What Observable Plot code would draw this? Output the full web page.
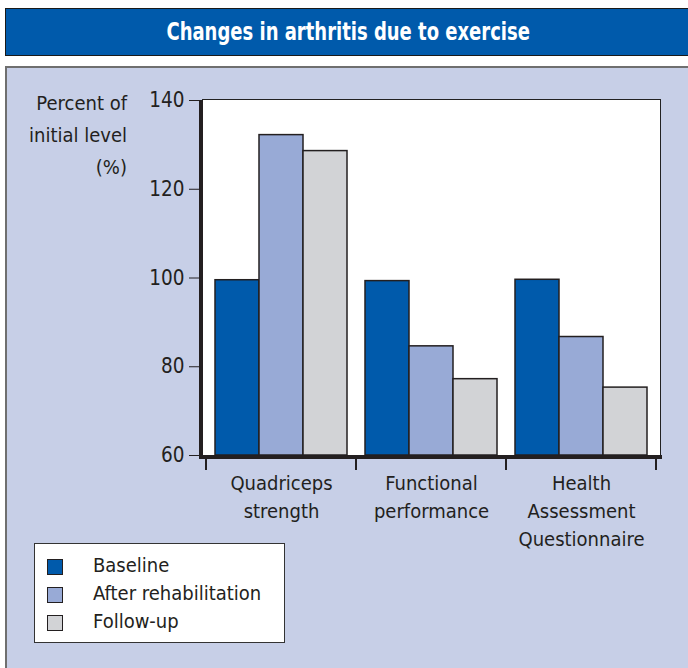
<!DOCTYPE html>
<html><head><meta charset="utf-8">
<script src="https://cdn.jsdelivr.net/npm/d3@7"></script>
<script src="https://cdn.jsdelivr.net/npm/@observablehq/plot@0.6"></script>
<style>
body{margin:0;width:688px;height:668px;overflow:hidden;background:#fff;position:relative;font-family:"Liberation Sans Narrow","DejaVu Sans Condensed",sans-serif;color:#231f20;}
#title{position:absolute;left:5px;top:8px;width:690px;height:46px;background:#005aab;border:1px solid #1a1a1a;color:#fff;font-weight:bold;font-size:25px;line-height:46px;}
#title span{position:absolute;left:0;width:683px;text-align:center;transform:scaleX(0.8);transform-origin:345px 50%;}
#panel{position:absolute;left:5px;top:66px;width:700px;height:620px;background:#c7cfe7;border-left:2px solid #6f6f6f;border-top:2px solid #6f6f6f;}
#frame{position:absolute;left:202px;top:99px;width:457px;height:355px;background:#fff;border:1px solid #222;}
#axl{position:absolute;left:199px;top:100px;width:4px;height:359px;background:#231f20;}
#axb{position:absolute;left:199px;top:455px;width:463px;height:4px;background:#231f20;}
#ylab{position:absolute;right:561px;top:87px;text-align:right;font-size:20px;line-height:32px;}
#chart{position:absolute;left:0;top:0;}
#legend{position:absolute;left:34px;top:543px;width:249px;height:98px;background:#fff;border:1px solid #333;font-size:20px;}
.row{position:absolute;left:0;height:28px;line-height:28px;}
.sw{position:absolute;left:12px;top:6px;width:14px;height:14px;border:1.5px solid #231f20;}
.lt{position:absolute;left:58px;top:-2px;white-space:nowrap;}
</style></head>
<body>
<div id="title"><span></span></div>
<div id="panel"></div>
<div id="frame"></div>
<div id="axl"></div>
<div id="axb"></div>
<div id="ylab"></div>
<div id="chart"></div>
<div id="legend"></div>
<script>
const titleText = "Changes in arthritis due to exercise";
const yLabelLines = ["Percent of", "initial level", "(%)"];
const categories = ["Quadriceps strength", "Functional performance", "Health Assessment Questionnaire"];
const categoryLabels = ["Quadriceps\nstrength", "Functional\nperformance", "Health\nAssessment\nQuestionnaire"];
const series = ["Baseline", "After rehabilitation", "Follow-up"];
const colors = ["#005aab", "#98aad6", "#d2d3d6"];
const baseline = [99.5, 99.3, 99.6];
const afterRehab = [132.2, 84.6, 86.7];
const followUp = [128.6, 77.2, 75.3];
const yTicks = [60, 80, 100, 120, 140];

document.querySelector("#title span").textContent = titleText;
document.getElementById("ylab").innerHTML = yLabelLines.join("<br>");

const data = [];
categories.forEach((c, i) => {
  data.push({category: c, series: series[0], value: baseline[i]});
  data.push({category: c, series: series[1], value: afterRehab[i]});
  data.push({category: c, series: series[2], value: followUp[i]});
});

const plot = Plot.plot({
  width: 688,
  height: 668,
  marginLeft: 205,
  marginRight: 32,
  marginTop: 100,
  marginBottom: 213,
  style: {background: "transparent", fontFamily: '"Liberation Sans Narrow","DejaVu Sans Condensed",sans-serif', color: "#231f20"},
  fx: {domain: categories, padding: 0},
  x: {domain: series, paddingInner: 0, paddingOuter: 0.2},
  y: {domain: [60, 140]},
  color: {domain: series, range: colors},
  marks: [
    Plot.barY(data, {fx: "category", x: "series", y1: 60, y2: "value", fill: "series", stroke: "#231f20", strokeWidth: 1.5, inset: 0}),
    Plot.axisY({ticks: yTicks, tickSize: 12, tickPadding: 5, dx: -5, fontSize: 20.5, label: null, stroke: "#231f20"}),
    Plot.axisX({ticks: [], label: null}),
    Plot.axisFx({anchor: "bottom", tickSize: 0, tickPadding: 15, fontSize: 20, lineHeight: 1.4, label: null, tickFormat: d => categoryLabels[categories.indexOf(d)]})
  ]
});
document.getElementById("chart").appendChild(plot);

// boundary ticks between categories, from the fx band scale
const fx = plot.scale("fx");
const bw = fx.bandwidth;
const edges = categories.map(c => fx.apply(c)).concat([fx.apply(categories[categories.length - 1]) + bw]);
const svg = d3.select(plot);
svg.append("g").selectAll("line").data(edges).join("line")
  .attr("x1", d => d).attr("x2", d => d)
  .attr("y1", 459).attr("y2", 470)
  .attr("stroke", "#231f20").attr("stroke-width", 2);

// legend
const lg = document.getElementById("legend");
series.forEach((s, i) => {
  const r = document.createElement("div");
  r.className = "row";
  r.style.top = (9 + i * 28) + "px";
  r.innerHTML = `<div class="sw" style="background:${colors[i]}"></div><div class="lt">${s}</div>`;
  lg.appendChild(r);
});
</script>
</body></html>
